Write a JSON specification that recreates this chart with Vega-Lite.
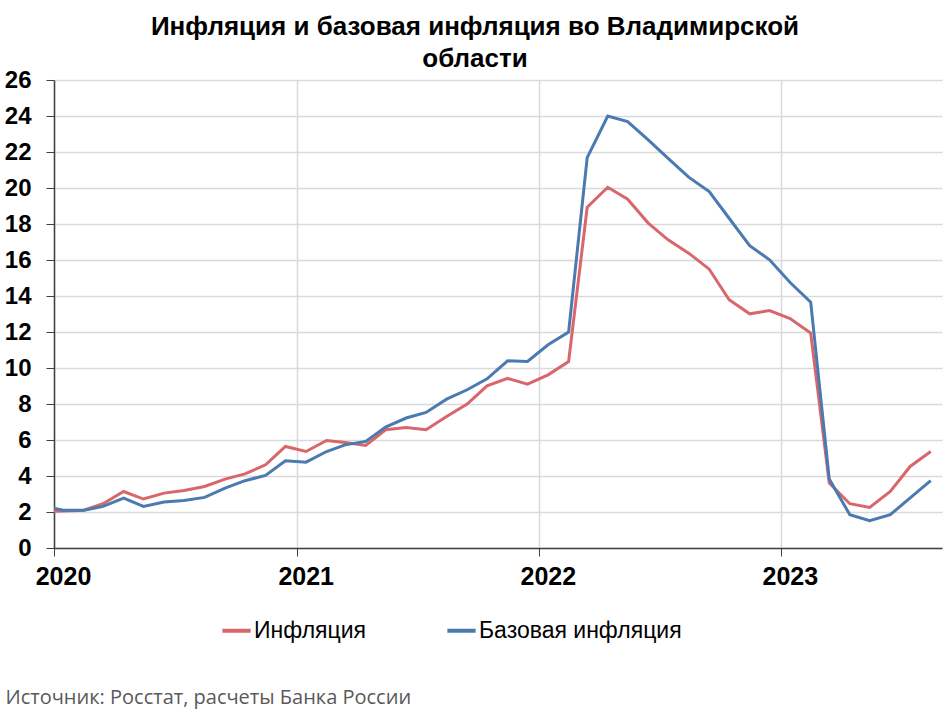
{
  "$schema": "https://vega.github.io/schema/vega-lite/v6.json",
  "width": 888,
  "height": 468,
  "autosize": {"type": "none"},
  "padding": {"left": 54, "top": 80, "right": 8, "bottom": 164},
  "background": "white",
  "title": {
    "text": ["Инфляция и базовая инфляция во Владимирской", "области"],
    "font": "Liberation Sans",
    "fontSize": 26,
    "fontWeight": "bold",
    "color": "#000000",
    "lineHeight": 32,
    "anchor": "middle",
    "dx": -23,
    "offset": -4
  },
  "data": {
    "values": [
      {"date": "2019-12-15", "series": "Инфляция", "value": 2.04},
      {"date": "2020-01-15", "series": "Инфляция", "value": 2.05},
      {"date": "2020-02-15", "series": "Инфляция", "value": 2.1},
      {"date": "2020-03-15", "series": "Инфляция", "value": 2.46},
      {"date": "2020-04-15", "series": "Инфляция", "value": 3.14},
      {"date": "2020-05-15", "series": "Инфляция", "value": 2.72},
      {"date": "2020-06-15", "series": "Инфляция", "value": 3.05},
      {"date": "2020-07-15", "series": "Инфляция", "value": 3.2},
      {"date": "2020-08-15", "series": "Инфляция", "value": 3.42},
      {"date": "2020-09-15", "series": "Инфляция", "value": 3.83},
      {"date": "2020-10-15", "series": "Инфляция", "value": 4.12},
      {"date": "2020-11-15", "series": "Инфляция", "value": 4.62},
      {"date": "2020-12-15", "series": "Инфляция", "value": 5.64},
      {"date": "2021-01-15", "series": "Инфляция", "value": 5.36},
      {"date": "2021-02-15", "series": "Инфляция", "value": 5.97},
      {"date": "2021-03-15", "series": "Инфляция", "value": 5.86},
      {"date": "2021-04-15", "series": "Инфляция", "value": 5.7},
      {"date": "2021-05-15", "series": "Инфляция", "value": 6.57},
      {"date": "2021-06-15", "series": "Инфляция", "value": 6.7},
      {"date": "2021-07-15", "series": "Инфляция", "value": 6.57},
      {"date": "2021-08-15", "series": "Инфляция", "value": 7.31},
      {"date": "2021-09-15", "series": "Инфляция", "value": 8.0},
      {"date": "2021-10-15", "series": "Инфляция", "value": 9.01},
      {"date": "2021-11-15", "series": "Инфляция", "value": 9.42},
      {"date": "2021-12-15", "series": "Инфляция", "value": 9.1},
      {"date": "2022-01-15", "series": "Инфляция", "value": 9.62},
      {"date": "2022-02-15", "series": "Инфляция", "value": 10.36},
      {"date": "2022-03-15", "series": "Инфляция", "value": 18.93},
      {"date": "2022-04-15", "series": "Инфляция", "value": 20.04},
      {"date": "2022-05-15", "series": "Инфляция", "value": 19.38},
      {"date": "2022-06-15", "series": "Инфляция", "value": 18.05},
      {"date": "2022-07-15", "series": "Инфляция", "value": 17.12},
      {"date": "2022-08-15", "series": "Инфляция", "value": 16.38},
      {"date": "2022-09-15", "series": "Инфляция", "value": 15.49},
      {"date": "2022-10-15", "series": "Инфляция", "value": 13.79},
      {"date": "2022-11-15", "series": "Инфляция", "value": 13.01},
      {"date": "2022-12-15", "series": "Инфляция", "value": 13.19},
      {"date": "2023-01-15", "series": "Инфляция", "value": 12.75},
      {"date": "2023-02-15", "series": "Инфляция", "value": 11.94},
      {"date": "2023-03-15", "series": "Инфляция", "value": 3.61},
      {"date": "2023-04-15", "series": "Инфляция", "value": 2.46},
      {"date": "2023-05-15", "series": "Инфляция", "value": 2.25},
      {"date": "2023-06-15", "series": "Инфляция", "value": 3.14},
      {"date": "2023-07-15", "series": "Инфляция", "value": 4.53},
      {"date": "2023-08-15", "series": "Инфляция", "value": 5.36},
      {"date": "2019-12-15", "series": "Базовая инфляция", "value": 2.34},
      {"date": "2020-01-15", "series": "Базовая инфляция", "value": 2.1},
      {"date": "2020-02-15", "series": "Базовая инфляция", "value": 2.1},
      {"date": "2020-03-15", "series": "Базовая инфляция", "value": 2.31},
      {"date": "2020-04-15", "series": "Базовая инфляция", "value": 2.77},
      {"date": "2020-05-15", "series": "Базовая инфляция", "value": 2.31},
      {"date": "2020-06-15", "series": "Базовая инфляция", "value": 2.55},
      {"date": "2020-07-15", "series": "Базовая инфляция", "value": 2.64},
      {"date": "2020-08-15", "series": "Базовая инфляция", "value": 2.81},
      {"date": "2020-09-15", "series": "Базовая инфляция", "value": 3.33},
      {"date": "2020-10-15", "series": "Базовая инфляция", "value": 3.74},
      {"date": "2020-11-15", "series": "Базовая инфляция", "value": 4.03},
      {"date": "2020-12-15", "series": "Базовая инфляция", "value": 4.85},
      {"date": "2021-01-15", "series": "Базовая инфляция", "value": 4.77},
      {"date": "2021-02-15", "series": "Базовая инфляция", "value": 5.36},
      {"date": "2021-03-15", "series": "Базовая инфляция", "value": 5.73},
      {"date": "2021-04-15", "series": "Базовая инфляция", "value": 5.92},
      {"date": "2021-05-15", "series": "Базовая инфляция", "value": 6.72},
      {"date": "2021-06-15", "series": "Базовая инфляция", "value": 7.22},
      {"date": "2021-07-15", "series": "Базовая инфляция", "value": 7.53},
      {"date": "2021-08-15", "series": "Базовая инфляция", "value": 8.27},
      {"date": "2021-09-15", "series": "Базовая инфляция", "value": 8.79},
      {"date": "2021-10-15", "series": "Базовая инфляция", "value": 9.4},
      {"date": "2021-11-15", "series": "Базовая инфляция", "value": 10.4},
      {"date": "2021-12-15", "series": "Базовая инфляция", "value": 10.36},
      {"date": "2022-01-15", "series": "Базовая инфляция", "value": 11.29},
      {"date": "2022-02-15", "series": "Базовая инфляция", "value": 12.0},
      {"date": "2022-03-15", "series": "Базовая инфляция", "value": 21.69},
      {"date": "2022-04-15", "series": "Базовая инфляция", "value": 24.0},
      {"date": "2022-05-15", "series": "Базовая инфляция", "value": 23.69},
      {"date": "2022-06-15", "series": "Базовая инфляция", "value": 22.67},
      {"date": "2022-07-15", "series": "Базовая инфляция", "value": 21.65},
      {"date": "2022-08-15", "series": "Базовая инфляция", "value": 20.6},
      {"date": "2022-09-15", "series": "Базовая инфляция", "value": 19.8},
      {"date": "2022-10-15", "series": "Базовая инфляция", "value": 18.32},
      {"date": "2022-11-15", "series": "Базовая инфляция", "value": 16.8},
      {"date": "2022-12-15", "series": "Базовая инфляция", "value": 16.01},
      {"date": "2023-01-15", "series": "Базовая инфляция", "value": 14.75},
      {"date": "2023-02-15", "series": "Базовая инфляция", "value": 13.66},
      {"date": "2023-03-15", "series": "Базовая инфляция", "value": 3.83},
      {"date": "2023-04-15", "series": "Базовая инфляция", "value": 1.85},
      {"date": "2023-05-15", "series": "Базовая инфляция", "value": 1.52},
      {"date": "2023-06-15", "series": "Базовая инфляция", "value": 1.85},
      {"date": "2023-07-15", "series": "Базовая инфляция", "value": 2.78},
      {"date": "2023-08-15", "series": "Базовая инфляция", "value": 3.74}
    ]
  },
  "mark": {"type": "line", "strokeWidth": 3, "clip": true},
  "encoding": {
    "x": {
      "field": "date",
      "type": "temporal",
      "scale": {
        "type": "utc",
        "domain": [
          {"year": 2020, "month": 1, "date": 1, "utc": true},
          {"year": 2023, "month": 9, "date": 1, "utc": true}
        ]
      },
      "axis": {
        "values": [
          {"year": 2020, "month": 1, "date": 1, "utc": true},
          {"year": 2021, "month": 1, "date": 1, "utc": true},
          {"year": 2022, "month": 1, "date": 1, "utc": true},
          {"year": 2023, "month": 1, "date": 1, "utc": true}
        ],
        "format": "%Y",
        "formatType": "utc",
        "labelFlush": false,
        "labelAlign": "center",
        "labelOffset": 9,
        "labelFont": "Liberation Sans",
        "labelFontSize": 25,
        "labelFontWeight": "bold",
        "labelColor": "#000000",
        "labelPadding": 8,
        "tickSize": 8,
        "tickColor": "#404040",
        "domainColor": "#404040",
        "domainWidth": 1.5,
        "grid": true,
        "gridColor": "#d9d9d9",
        "gridWidth": 1.5,
        "title": "Источник: Росстат, расчеты Банка России",
        "titleFont": "Open Sans",
        "titleFontSize": 20,
        "titleFontWeight": "normal",
        "titleColor": "#595959",
        "titleAnchor": "start",
        "titleAlign": "left",
        "titleBaseline": "middle",
        "titleX": -49,
        "titleY": 149
      }
    },
    "y": {
      "field": "value",
      "type": "quantitative",
      "scale": {"domain": [0, 26], "nice": false},
      "axis": {
        "values": [0, 2, 4, 6, 8, 10, 12, 14, 16, 18, 20, 22, 24, 26],
        "title": null,
        "labelFont": "Liberation Sans",
        "labelFontSize": 24,
        "labelFontWeight": "bold",
        "labelColor": "#000000",
        "labelPadding": 15,
        "tickSize": 8,
        "tickColor": "#404040",
        "domainColor": "#404040",
        "domainWidth": 1.5,
        "gridColor": "#d9d9d9",
        "gridWidth": 1.5
      }
    },
    "color": {
      "field": "series",
      "type": "nominal",
      "sort": ["Инфляция", "Базовая инфляция"],
      "scale": {"domain": ["Инфляция", "Базовая инфляция"], "range": ["#D9666B", "#4A7AB0"]},
      "legend": {
        "title": null,
        "orient": "none",
        "direction": "horizontal",
        "legendX": 166,
        "legendY": 534,
        "symbolType": "stroke",
        "symbolSize": 800,
        "symbolStrokeWidth": 4,
        "labelFont": "Liberation Sans",
        "labelFontSize": 23,
        "labelColor": "#000000",
        "labelOffset": 1,
        "columnPadding": 72,
        "labelLimit": 400
      }
    }
  },
  "config": {
    "view": {"stroke": null}
  }
}
